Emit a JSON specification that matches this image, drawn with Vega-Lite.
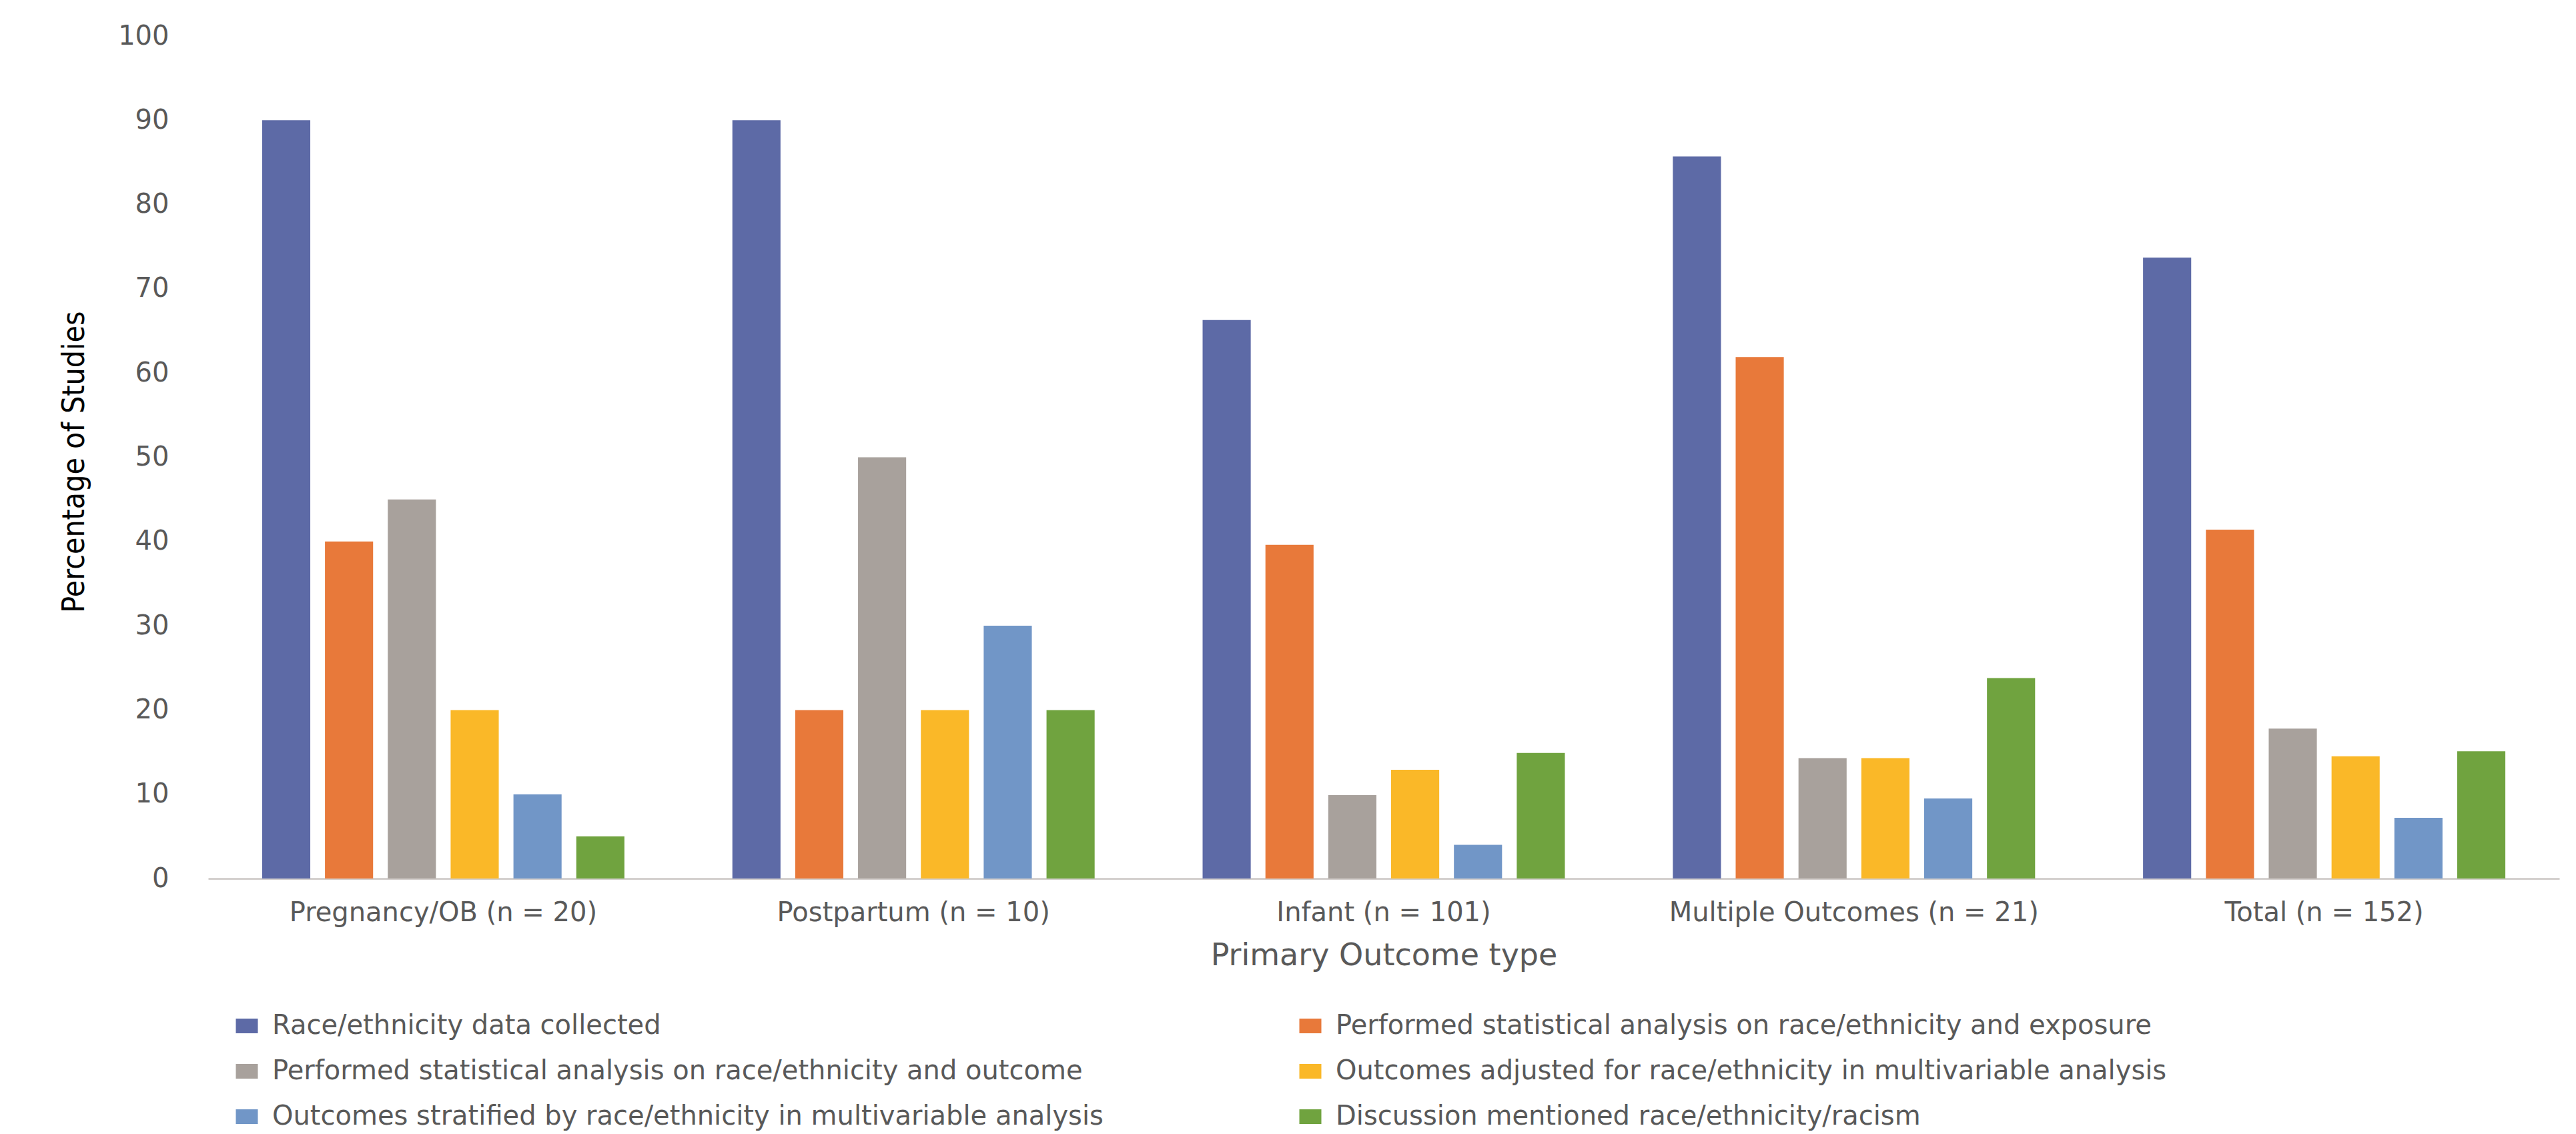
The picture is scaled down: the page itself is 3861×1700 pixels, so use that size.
{
  "$schema": "https://vega.github.io/schema/vega-lite/v6.json",
  "autosize": {"type": "none"},
  "width": 3524,
  "height": 1263,
  "padding": {"left": 312, "top": 54, "right": 25, "bottom": 383},
  "background": "#ffffff",
  "config": {"view": {"stroke": null}},
  "data": {"values": [
    {"outcome": "Pregnancy/OB (n = 20)", "series": "Race/ethnicity data collected", "pct": 90},
    {"outcome": "Pregnancy/OB (n = 20)", "series": "Performed statistical analysis on race/ethnicity and exposure", "pct": 40},
    {"outcome": "Pregnancy/OB (n = 20)", "series": "Performed statistical analysis on race/ethnicity and outcome", "pct": 45},
    {"outcome": "Pregnancy/OB (n = 20)", "series": "Outcomes adjusted for race/ethnicity in multivariable analysis", "pct": 20},
    {"outcome": "Pregnancy/OB (n = 20)", "series": "Outcomes stratified by race/ethnicity in multivariable analysis", "pct": 10},
    {"outcome": "Pregnancy/OB (n = 20)", "series": "Discussion mentioned race/ethnicity/racism", "pct": 5},
    {"outcome": "Postpartum (n = 10)", "series": "Race/ethnicity data collected", "pct": 90},
    {"outcome": "Postpartum (n = 10)", "series": "Performed statistical analysis on race/ethnicity and exposure", "pct": 20},
    {"outcome": "Postpartum (n = 10)", "series": "Performed statistical analysis on race/ethnicity and outcome", "pct": 50},
    {"outcome": "Postpartum (n = 10)", "series": "Outcomes adjusted for race/ethnicity in multivariable analysis", "pct": 20},
    {"outcome": "Postpartum (n = 10)", "series": "Outcomes stratified by race/ethnicity in multivariable analysis", "pct": 30},
    {"outcome": "Postpartum (n = 10)", "series": "Discussion mentioned race/ethnicity/racism", "pct": 20},
    {"outcome": "Infant (n = 101)", "series": "Race/ethnicity data collected", "pct": 66.3},
    {"outcome": "Infant (n = 101)", "series": "Performed statistical analysis on race/ethnicity and exposure", "pct": 39.6},
    {"outcome": "Infant (n = 101)", "series": "Performed statistical analysis on race/ethnicity and outcome", "pct": 9.9},
    {"outcome": "Infant (n = 101)", "series": "Outcomes adjusted for race/ethnicity in multivariable analysis", "pct": 12.9},
    {"outcome": "Infant (n = 101)", "series": "Outcomes stratified by race/ethnicity in multivariable analysis", "pct": 4.0},
    {"outcome": "Infant (n = 101)", "series": "Discussion mentioned race/ethnicity/racism", "pct": 14.9},
    {"outcome": "Multiple Outcomes (n = 21)", "series": "Race/ethnicity data collected", "pct": 85.7},
    {"outcome": "Multiple Outcomes (n = 21)", "series": "Performed statistical analysis on race/ethnicity and exposure", "pct": 61.9},
    {"outcome": "Multiple Outcomes (n = 21)", "series": "Performed statistical analysis on race/ethnicity and outcome", "pct": 14.3},
    {"outcome": "Multiple Outcomes (n = 21)", "series": "Outcomes adjusted for race/ethnicity in multivariable analysis", "pct": 14.3},
    {"outcome": "Multiple Outcomes (n = 21)", "series": "Outcomes stratified by race/ethnicity in multivariable analysis", "pct": 9.5},
    {"outcome": "Multiple Outcomes (n = 21)", "series": "Discussion mentioned race/ethnicity/racism", "pct": 23.8},
    {"outcome": "Total (n = 152)", "series": "Race/ethnicity data collected", "pct": 73.7},
    {"outcome": "Total (n = 152)", "series": "Performed statistical analysis on race/ethnicity and exposure", "pct": 41.4},
    {"outcome": "Total (n = 152)", "series": "Performed statistical analysis on race/ethnicity and outcome", "pct": 17.8},
    {"outcome": "Total (n = 152)", "series": "Outcomes adjusted for race/ethnicity in multivariable analysis", "pct": 14.5},
    {"outcome": "Total (n = 152)", "series": "Outcomes stratified by race/ethnicity in multivariable analysis", "pct": 7.2},
    {"outcome": "Total (n = 152)", "series": "Discussion mentioned race/ethnicity/racism", "pct": 15.1}
  ]},
  "mark": {"type": "bar"},
  "encoding": {
    "x": {
      "field": "outcome", "type": "nominal", "sort": null,
      "scale": {"paddingInner": 0.2296, "paddingOuter": 0.1148},
      "axis": {
        "title": "Primary Outcome type",
        "labelAngle": 0,
        "labelFont": "DejaVu Sans", "labelFontSize": 40, "labelColor": "#595959",
        "labelPadding": 31, "labelBaseline": "top", "labelLimit": 0,
        "ticks": false, "tickSize": 0,
        "domain": true, "domainColor": "#D4D0CE", "domainWidth": 3,
        "titleFont": "DejaVu Sans", "titleFontSize": 46, "titleFontWeight": "normal", "titleColor": "#595959",
        "titleBaseline": "top", "titleY": 93
      }
    },
    "xOffset": {
      "field": "series", "type": "nominal",
      "sort": ["Race/ethnicity data collected", "Performed statistical analysis on race/ethnicity and exposure", "Performed statistical analysis on race/ethnicity and outcome", "Outcomes adjusted for race/ethnicity in multivariable analysis", "Outcomes stratified by race/ethnicity in multivariable analysis", "Discussion mentioned race/ethnicity/racism"],
      "scale": {"paddingInner": 0.234, "paddingOuter": 0}
    },
    "y": {
      "field": "pct", "type": "quantitative",
      "scale": {"domain": [0, 100], "nice": false},
      "axis": {
        "title": "Percentage of Studies",
        "values": [0, 10, 20, 30, 40, 50, 60, 70, 80, 90, 100],
        "grid": false, "domain": false, "ticks": false, "tickSize": 0,
        "labelFont": "DejaVu Sans", "labelFontSize": 40, "labelColor": "#595959",
        "labelPadding": 59,
        "titleFont": "Liberation Sans Narrow, DejaVu Sans Condensed, sans-serif",
        "titleFontSize": 46, "titleFontWeight": "normal", "titleColor": "#000000",
        "titleAngle": -90, "titleBaseline": "middle", "titleAlign": "center",
        "titleX": -201, "titleY": 638
      }
    },
    "color": {
      "field": "series", "type": "nominal",
      "scale": {
        "domain": ["Race/ethnicity data collected", "Performed statistical analysis on race/ethnicity and outcome", "Outcomes stratified by race/ethnicity in multivariable analysis", "Performed statistical analysis on race/ethnicity and exposure", "Outcomes adjusted for race/ethnicity in multivariable analysis", "Discussion mentioned race/ethnicity/racism"],
        "range": ["#5D6AA6", "#A8A19C", "#7196C7", "#E8793A", "#FAB828", "#70A33F"]
      },
      "legend": {
        "title": null,
        "orient": "none", "legendX": 38, "legendY": 1464,
        "direction": "vertical",
        "columns": 2, "columnPadding": 290, "rowPadding": 28,
        "padding": 0,
        "symbolType": "M-1,-0.67H1V0.67H-1Z", "symbolSize": 1089, "symbolStrokeWidth": 0,
        "labelOffset": 18,
        "labelFont": "DejaVu Sans", "labelFontSize": 40, "labelColor": "#595959", "labelLimit": 0
      }
    }
  }
}
